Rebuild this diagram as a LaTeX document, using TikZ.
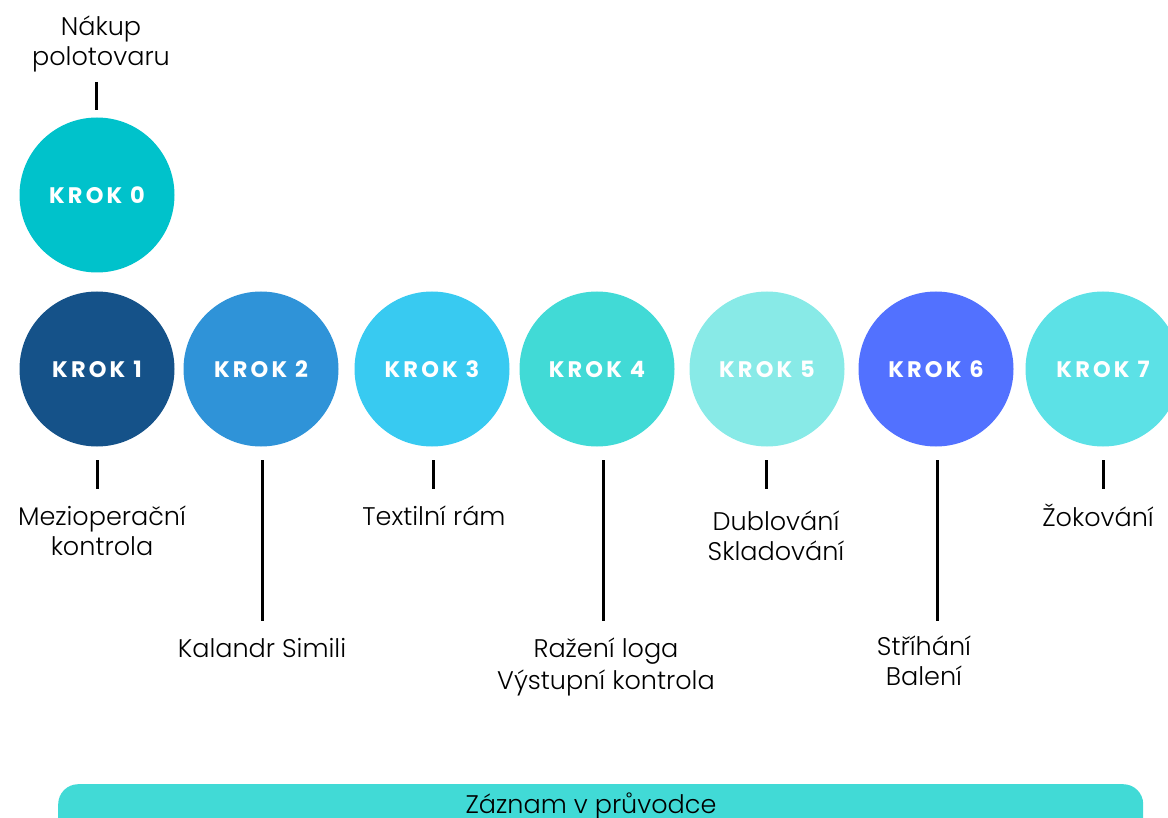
\documentclass[tikz,border=0pt]{standalone}
\usepackage{fontspec}
\setmainfont{Poppins}[UprightFont=* Light, BoldFont=* Bold]
\newfontfamily\krokfont{Poppins}[UprightFont=* Bold, LetterSpace=14]
\definecolor{c0}{HTML}{00C2CB}
\definecolor{c1}{HTML}{155289}
\definecolor{c2}{HTML}{2F93D8}
\definecolor{c3}{HTML}{38CAF1}
\definecolor{c4}{HTML}{41DAD6}
\definecolor{c5}{HTML}{88EAE7}
\definecolor{c6}{HTML}{5271FF}
\definecolor{c7}{HTML}{5CE1E6}
\definecolor{barc}{HTML}{41DAD6}
\tikzset{
  krok/.style={circle, minimum size=155pt, inner sep=0pt, text=white, font=\krokfont\fontsize{22.5}{26}\selectfont},
  lbl/.style={align=center, anchor=north, inner sep=0pt, font=\fontsize{25.5}{30}\selectfont, text=black},
  conn/.style={line width=3pt, black}
}
\begin{document}
\begin{tikzpicture}[x=1pt,y=-1pt]
\useasboundingbox (0,0) rectangle (1168,818);
\clip (0,0) rectangle (1168,818);
% circles
\node[krok, fill=c0] (k0) at (97,195) {KROK 0};
\node[krok, fill=c1] (k1) at (97,369) {KROK 1};
\node[krok, fill=c2] (k2) at (261,369) {KROK 2};
\node[krok, fill=c3] (k3) at (432,369) {KROK 3};
\node[krok, fill=c4] (k4) at (597,369) {KROK 4};
\node[krok, fill=c5] (k5) at (767,369) {KROK 5};
\node[krok, fill=c6] (k6) at (936,369) {KROK 6};
\node[krok, fill=c7] (k7) at (1103,369) {KROK 7};
% line ends
\coordinate (a0) at (96,82);  \coordinate (b0) at (96,110);
\coordinate (a1) at (97,460); \coordinate (b1) at (97,489);
\coordinate (a2) at (262,460); \coordinate (b2) at (262,621);
\coordinate (a3) at (433,460); \coordinate (b3) at (433,489);
\coordinate (a4) at (603,460); \coordinate (b4) at (603,621);
\coordinate (a5) at (766,460); \coordinate (b5) at (766,489);
\coordinate (a6) at (937,460); \coordinate (b6) at (937,621);
\coordinate (a7) at (1103,460); \coordinate (b7) at (1103,489);
% labels
\node[lbl] (t0) at (101,16) {Nákup\\polotovaru};
\node[lbl] (t1) at (102,506) {Mezioperační\\kontrola};
\node[lbl] (t2) at (262,638) {Kalandr Simili};
\node[lbl] (t3) at (434,506) {Textilní rám};
\node[lbl, font=\fontsize{25.5}{31.5}\selectfont] (t4) at (606,638) {Ražení loga\\Výstupní kontrola};
\node[lbl] (t5) at (776,511) {Dublování\\Skladování};
\node[lbl] (t6) at (924,636) {Stříhání\\Balení};
\node[lbl] (t7) at (1098,504) {Žokování};
% connectors
\foreach \i in {0,...,7} { \draw[conn] (a\i) -- (b\i); }
% bar
\node[fill=barc, rounded corners=20pt, minimum width=1085pt, minimum height=60pt, inner sep=0pt, anchor=north west] (bar) at (58,784) {};
\node[font=\fontsize{25.5}{28}\selectfont, anchor=base] (bartext) at (591,813) {Záznam v průvodce};
\end{tikzpicture}
\end{document}
